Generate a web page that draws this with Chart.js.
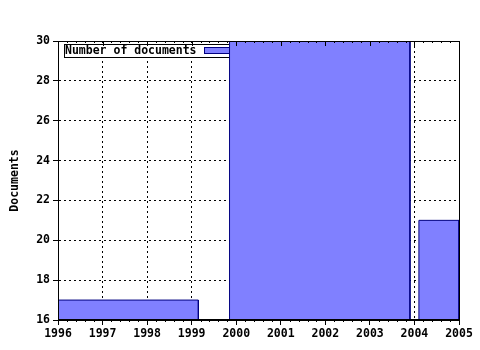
<!DOCTYPE html>
<html lang="en">
<head>
<meta charset="UTF-8">
<title>Number of documents</title>
<style>
  body { margin: 0; background: #fff; }
  #wrap { width: 480px; height: 350px; }
</style>
</head>
<body>
<div id="wrap"><canvas id="docChart" width="480" height="350"></canvas></div>
<script src="https://cdn.jsdelivr.net/npm/chart.js"></script>
<script>
  // bars: start year, end year, number of documents
  const barStart = [1996, 1999.85, 2004.1];
  const barEnd = [1999.15, 2003.9, 2005];
  const docs = [17, 30, 21];
  const yearTicks = [1996, 1997, 1998, 1999, 2000, 2001, 2002, 2003, 2004, 2005];
  const yMin = 16, yMax = 30;

  const FONT = 'bold 11.5px "DejaVu Sans Mono", monospace';
  const fill = '#8080ff';
  const edge = '#000080';

  const datasets = docs.map(function (v, i) {
    return {
      label: i === 0 ? 'Number of documents' : '',
      data: [
        { x: barStart[i], y: yMin },
        { x: barStart[i], y: v },
        { x: barEnd[i], y: v },
        { x: barEnd[i], y: yMin }
      ],
      showLine: true,
      fill: { value: yMin },
      backgroundColor: fill,
      borderColor: edge,
      borderWidth: 1,
      pointRadius: 0,
      tension: 0
    };
  });

  // legend box, drawn under the bars as in the original
  const legendBox = {
    id: 'legendBox',
    beforeDatasetsDraw(chart) {
      const ctx = chart.ctx;
      const a = chart.chartArea;
      ctx.save();
      ctx.fillStyle = '#fff';
      ctx.fillRect(a.left + 6.5, a.top + 3.5, 180, 13);
      ctx.strokeStyle = '#000';
      ctx.lineWidth = 1;
      ctx.strokeRect(a.left + 6.5, a.top + 3.5, 180, 13);
      ctx.font = FONT;
      ctx.fillStyle = '#000';
      ctx.textBaseline = 'middle';
      ctx.fillText('Number of documents', a.left + 7, a.top + 10.5);
      ctx.fillStyle = fill;
      ctx.fillRect(a.left + 146.5, a.top + 6.5, 30, 6);
      ctx.strokeStyle = edge;
      ctx.strokeRect(a.left + 146.5, a.top + 6.5, 30, 6);
      ctx.restore();
    },
    afterDatasetsDraw(chart) {
      const ctx = chart.ctx;
      const a = chart.chartArea;
      const xs = chart.scales.x;
      ctx.save();
      ctx.strokeStyle = '#000';
      ctx.lineWidth = 1;
      ctx.strokeRect(Math.round(a.left) + 0.5, Math.round(a.top) + 0.5,
        Math.round(a.right - a.left), Math.round(a.bottom - a.top) - 1);
      // ticks on top edge and minor ticks on bottom
      ctx.beginPath();
      for (let y = yearTicks[0]; y <= yearTicks[yearTicks.length - 1] + 0.01; y += 0.2) {
        const px = Math.round(xs.getPixelForValue(y)) + 0.5;
        const major = Math.abs(y - Math.round(y)) < 0.01;
        ctx.moveTo(px, a.top);
        ctx.lineTo(px, a.top + (major ? 5 : 2));
        if (!major) {
          ctx.moveTo(px, a.bottom);
          ctx.lineTo(px, a.bottom + 2);
        }
      }
      ctx.stroke();
      ctx.restore();
    }
  };

  const gridOpts = {
    color: '#000',
    tickBorderDash: [],
    tickLength: 5,
    tickColor: '#000'
  };

  new Chart(document.getElementById('docChart'), {
    type: 'scatter',
    data: { datasets: datasets },
    plugins: [legendBox],
    options: {
      responsive: false,
      animation: false,
      layout: { padding: { top: 41, right: 21, left: 0, bottom: 0 } },
      plugins: { legend: { display: false }, tooltip: { enabled: false } },
      scales: {
        x: {
          type: 'linear',
          min: yearTicks[0],
          max: yearTicks[yearTicks.length - 1],
          afterBuildTicks(scale) { scale.ticks = yearTicks.map(v => ({ value: v })); },
          afterFit(scale) { scale.height = 30; },
          ticks: {
            color: '#000',
            font: { family: '"DejaVu Sans Mono", monospace', size: 11.5, weight: 'bold' },
            padding: 2,
            maxRotation: 0,
            callback: v => String(v)
          },
          grid: gridOpts,
          border: { display: true, color: '#000', dash: [2, 3] }
        },
        y: {
          min: yMin,
          max: yMax,
          afterFit(scale) { scale.width = 58; },
          ticks: {
            stepSize: 2,
            color: '#000',
            font: { family: '"DejaVu Sans Mono", monospace', size: 11.5, weight: 'bold' },
            padding: 3
          },
          grid: gridOpts,
          border: { display: true, color: '#000', dash: [2, 3] },
          title: {
            display: true,
            text: 'Documents',
            color: '#000',
            font: { family: '"DejaVu Sans Mono", monospace', size: 11.5, weight: 'bold' },
            padding: { top: 8, bottom: 4 }
          }
        }
      }
    }
  });
</script>
</body>
</html>
